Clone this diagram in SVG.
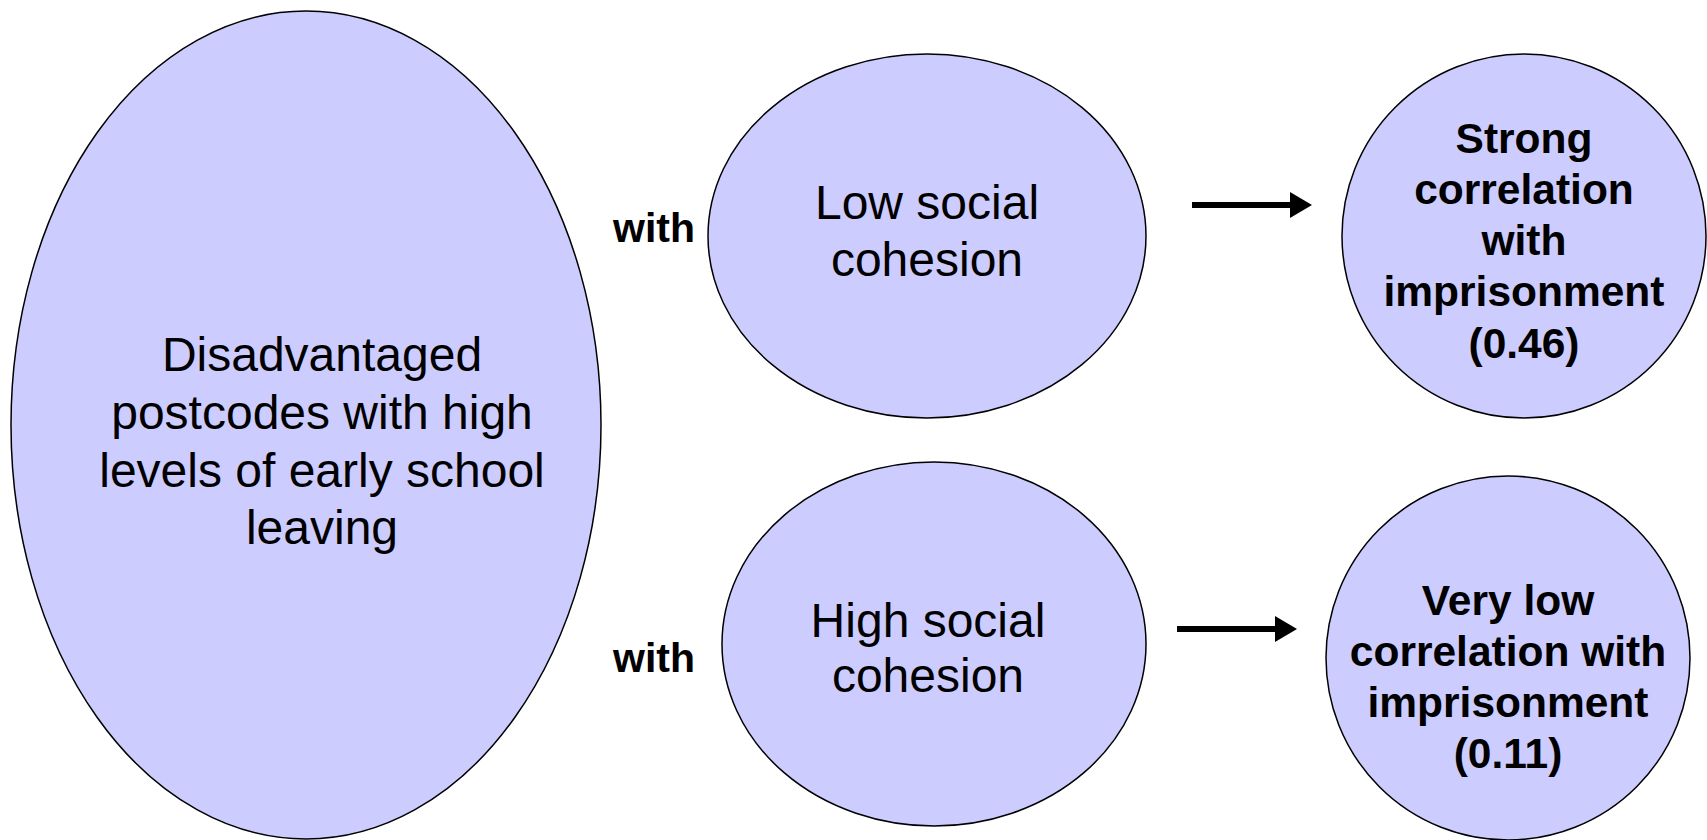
<svg xmlns="http://www.w3.org/2000/svg" width="1707" height="840" viewBox="0 0 1707 840">
<defs>
<style>
.node{fill:#CCCCFF;stroke:#000;stroke-width:1.5}
.t{font-family:"Liberation Sans",Arial,sans-serif;font-size:48px;fill:#000;text-anchor:middle}
.b{font-family:"Liberation Sans",Arial,sans-serif;font-size:42.5px;font-weight:bold;fill:#000;text-anchor:middle}
.w{font-family:"Liberation Sans",Arial,sans-serif;font-size:41px;font-weight:bold;fill:#000}
.arrow{stroke:#000;stroke-width:6;fill:none}
</style>
<marker id="ah" viewBox="0 0 22 26" refX="0" refY="13" markerWidth="22" markerHeight="26" markerUnits="userSpaceOnUse" orient="auto">
<path d="M0,0 L22,13 L0,26 Z" fill="#000"/>
</marker>
</defs>
<rect width="1707" height="840" fill="#fff"/>
<g id="n-disadvantaged">
<ellipse class="node" cx="306" cy="425" rx="295" ry="414"/>
<text class="t" x="322" y="371">Disadvantaged</text>
<text class="t" x="322" y="429">postcodes with high</text>
<text class="t" x="322" y="487">levels of early school</text>
<text class="t" x="322" y="544">leaving</text>
</g>
<g id="n-low">
<ellipse class="node" cx="927" cy="236" rx="219" ry="182"/>
<text class="t" x="927" y="219">Low social</text>
<text class="t" x="927" y="276">cohesion</text>
</g>
<g id="n-high">
<ellipse class="node" cx="934" cy="644" rx="212" ry="182"/>
<text class="t" x="928" y="637">High social</text>
<text class="t" x="928" y="692">cohesion</text>
</g>
<g id="n-strong">
<ellipse class="node" cx="1524" cy="236" rx="182" ry="182"/>
<text class="b" x="1524" y="153">Strong</text>
<text class="b" x="1524" y="204">correlation</text>
<text class="b" x="1524" y="255">with</text>
<text class="b" x="1524" y="306">imprisonment</text>
<text class="b" x="1524" y="358">(0.46)</text>
</g>
<g id="n-verylow">
<ellipse class="node" cx="1508" cy="658" rx="182" ry="182"/>
<text class="b" x="1508" y="615">Very low</text>
<text class="b" x="1508" y="666">correlation with</text>
<text class="b" x="1508" y="717">imprisonment</text>
<text class="b" x="1508" y="768">(0.11)</text>
</g>
<g id="labels">
<text class="w" x="613" y="242">with</text>
<text class="w" x="613" y="672">with</text>
</g>
<g id="connectors">
<line class="arrow" x1="1192" y1="205" x2="1290" y2="205" marker-end="url(#ah)"/>
<line class="arrow" x1="1177" y1="629" x2="1275" y2="629" marker-end="url(#ah)"/>
</g>
</svg>
